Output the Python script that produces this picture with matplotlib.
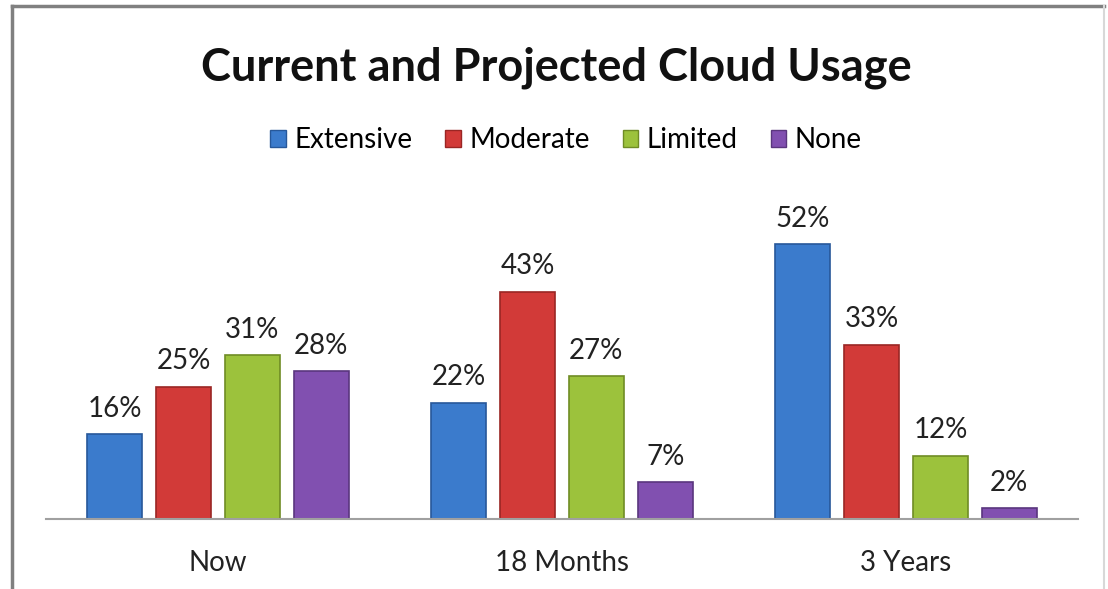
import matplotlib.pyplot as plt
import numpy as np
from matplotlib.patches import Patch
from matplotlib.lines import Line2D

plt.rcParams['font.family'] = ['Lato', 'DejaVu Sans']

categories = ['Now', '18 Months', '3 Years']
series = ['Extensive', 'Moderate', 'Limited', 'None']
extensive = [16, 22, 52]
moderate = [25, 43, 33]
limited = [31, 27, 12]
none = [28, 7, 2]
values = [extensive, moderate, limited, none]

colors = ['#3b7bcc', '#d23a38', '#9cc23c', '#8150b0']
edges = ['#27589a', '#9a2624', '#6f8c25', '#5a367e']

fig = plt.figure(figsize=(11.08, 5.89), dpi=100)
ax = fig.add_axes([46 / 1108, 70 / 589, 1032 / 1108, 317 / 589])

x = np.arange(len(categories))
step = 0.2
width = 0.16
for i, (name, vals) in enumerate(zip(series, values)):
    pos = x + (i - 1.5) * step
    bars = ax.bar(pos, vals, width=width, color=colors[i], edgecolor=edges[i],
                  linewidth=1.2, label=name, zorder=2)
    for b, v in zip(bars, vals):
        ax.annotate(f'{v}%', (b.get_x() + b.get_width() / 2, v),
                    xytext=(0, 9), textcoords='offset points',
                    ha='center', va='bottom', fontsize=20, color='#222222')

ax.set_xlim(-0.50, 2.50)
ax.set_ylim(0, 60)
ax.set_yticks([])
ax.set_xticks(x)
ax.set_xticklabels(categories, fontsize=20, color='#222222')
ax.tick_params(axis='x', length=0, pad=22)
for s in ['top', 'left', 'right']:
    ax.spines[s].set_visible(False)
ax.spines['bottom'].set_color('#a0a0a0')
ax.spines['bottom'].set_linewidth(1.5)

fig.text(556 / 1108, 1 - 68 / 589, 'Current and Projected Cloud Usage',
         ha='center', va='center', fontsize=32.5, fontweight='bold', color='#111111')

handles = [Patch(facecolor=c, edgecolor=e) for c, e in zip(colors, edges)]
fig.legend(handles, series, loc='center', bbox_to_anchor=(566 / 1108, 1 - 140 / 589),
           ncol=4, frameon=False, fontsize=20, handlelength=0.55, handleheight=0.55,
           handletextpad=0.3, columnspacing=1.2)

# chart frame
fig.add_artist(Line2D([12 / 1108, 1104 / 1108], [1 - 6 / 589, 1 - 6 / 589],
                      color='#808080', lw=2.5))
fig.add_artist(Line2D([12 / 1108, 12 / 1108], [0, 1 - 6 / 589],
                      color='#808080', lw=2.5))
fig.add_artist(Line2D([1104 / 1108, 1104 / 1108], [0, 1 - 6 / 589],
                      color='#d8d8d8', lw=1.5))

fig.savefig('out.png', dpi=100)
